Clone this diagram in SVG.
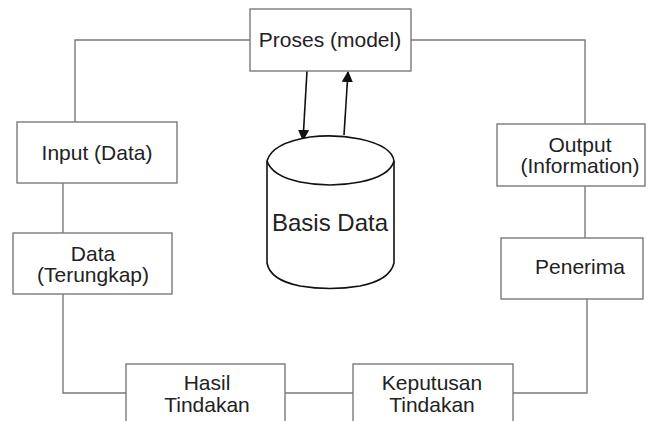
<svg xmlns="http://www.w3.org/2000/svg" width="651" height="421" viewBox="0 0 651 421">
  <style>
    .box { fill: #ffffff; stroke: #7a7a7a; stroke-width: 1.4; }
    .link { fill: none; stroke: #7a7a7a; stroke-width: 1.4; }
    .flow { fill: none; stroke: #111111; stroke-width: 1.6; }
    .db { fill: #ffffff; stroke: #111111; stroke-width: 1.6; }
    .lbl { font-family: "Liberation Sans", Arial, sans-serif; font-size: 21px; fill: #222222; text-anchor: middle; }
    .dblbl { font-family: "Liberation Sans", Arial, sans-serif; font-size: 24px; fill: #222222; text-anchor: middle; }
  </style>
  <defs>
    <marker id="head" viewBox="0 0 10 10" refX="9" refY="5" markerWidth="7" markerHeight="7" orient="auto">
      <path d="M0,0 L10,5 L0,10 z" fill="#111111"/>
    </marker>
  </defs>
  <rect width="651" height="421" fill="#ffffff"/>

  <!-- connectors around the cycle -->
  <g id="connectors">
    <polyline class="link" points="250,40 75,40 75,122"/>
    <polyline class="link" points="411,40 585,40 585,124"/>
    <line class="link" x1="63" y1="183" x2="63" y2="233"/>
    <line class="link" x1="585" y1="186" x2="585" y2="238"/>
    <polyline class="link" points="63,294 63,393 126,393"/>
    <line class="link" x1="285" y1="393" x2="353" y2="393"/>
    <polyline class="link" points="587,299 587,393 513,393"/>
    <line class="flow" x1="307" y1="71" x2="303" y2="140" marker-end="url(#head)"/>
    <line class="flow" x1="344" y1="135" x2="348" y2="72" marker-end="url(#head)"/>
  </g>

  <g id="proses">
    <rect class="box" x="250" y="9" width="161" height="62"/>
    <text class="lbl" x="330" y="47">Proses (model)</text>
  </g>

  <g id="input">
    <rect class="box" x="17" y="122" width="160" height="61"/>
    <text class="lbl" x="97" y="160">Input (Data)</text>
  </g>

  <g id="data-terungkap">
    <rect class="box" x="13" y="233" width="159" height="61"/>
    <text class="lbl" x="93" y="261">Data</text>
    <text class="lbl" x="93" y="282">(Terungkap)</text>
  </g>

  <g id="output">
    <rect class="box" x="497" y="124" width="148" height="62"/>
    <text class="lbl" x="580" y="152">Output</text>
    <text class="lbl" x="580" y="173">(Information)</text>
  </g>

  <g id="penerima">
    <rect class="box" x="501" y="238" width="142" height="61"/>
    <text class="lbl" x="580" y="274">Penerima</text>
  </g>

  <g id="hasil">
    <rect class="box" x="126" y="364" width="159" height="70"/>
    <text class="lbl" x="207" y="390">Hasil</text>
    <text class="lbl" x="207" y="412">Tindakan</text>
  </g>

  <g id="keputusan">
    <rect class="box" x="353" y="364" width="160" height="70"/>
    <text class="lbl" x="432" y="390">Keputusan</text>
    <text class="lbl" x="432" y="412">Tindakan</text>
  </g>

  <g id="basis-data">
    <path class="db" d="M267,161 L267,263 Q270,280 300,286 Q330,291 360,286 Q390,280 394,263 L394,161 Q392,146 360,139 Q335,134 310,137 Q272,143 267,161 Z"/>
    <path class="db" d="M267,161 Q272,176 300,182 Q330,188 360,182 Q390,176 394,161" fill="none"/>
    <text class="dblbl" x="330" y="231">Basis Data</text>
  </g>
</svg>
